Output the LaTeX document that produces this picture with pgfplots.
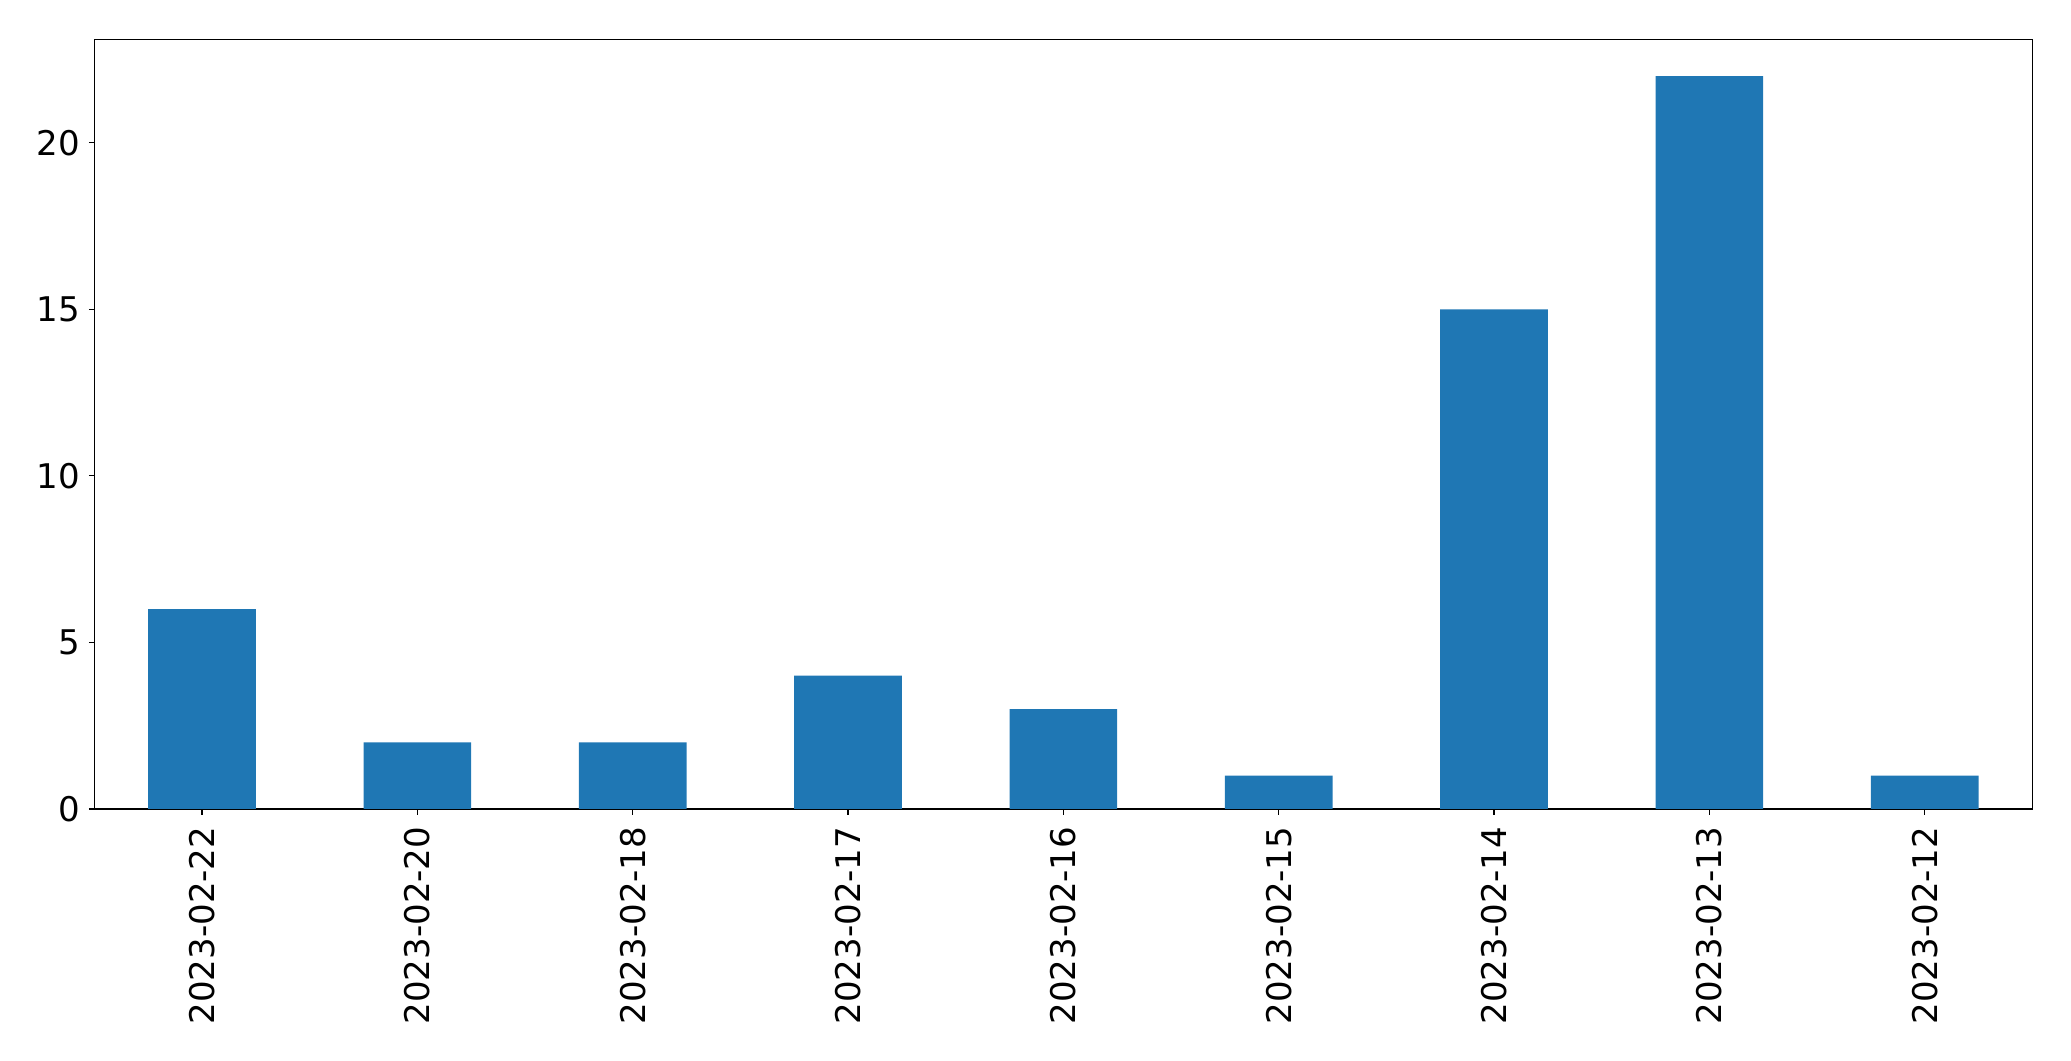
\documentclass[border=0pt]{standalone}
\usepackage{pgfplots}
\pgfplotsset{compat=1.18}
\usepackage{fontspec}
\setmainfont{DejaVu Sans}
\definecolor{barblue}{HTML}{1F77B4}
\begin{document}
\begin{tikzpicture}
\path[use as bounding box] (-23.6pt,-63pt) rectangle (494.15pt,202.25pt);
\begin{axis}[
    scale only axis,
    width=484.5pt, height=192.4pt,
    at={(0,0)}, anchor=south west,
    ybar, bar width=0.5,
    xmin=-0.5, xmax=8.5,
    ymin=0, ymax=23.1,
    xtick=data,
    xticklabels={2023-02-22,2023-02-20,2023-02-18,2023-02-17,2023-02-16,2023-02-15,2023-02-14,2023-02-13,2023-02-12},
    x tick label style={rotate=90, anchor=east, inner sep=0pt},
    y tick label style={inner sep=0pt},
    xticklabel shift=2.85pt,
    yticklabel shift=2pt,
    ytick={0,5,10,15,20},
    tick align=outside,
    major tick length=1.4pt,
    tick style={black, line width=0.3pt},
    xtick pos=bottom, ytick pos=left,
    axis line style={line width=0.3pt},
    tick label style={font=\fontsize{8.5}{10}\selectfont},
    /pgf/number format/assume math mode=true,
]
\addplot[fill=barblue, draw=none] coordinates {(0,6) (1,2) (2,2) (3,4) (4,3) (5,1) (6,15) (7,22) (8,1)};
\end{axis}
\end{tikzpicture}
\end{document}
